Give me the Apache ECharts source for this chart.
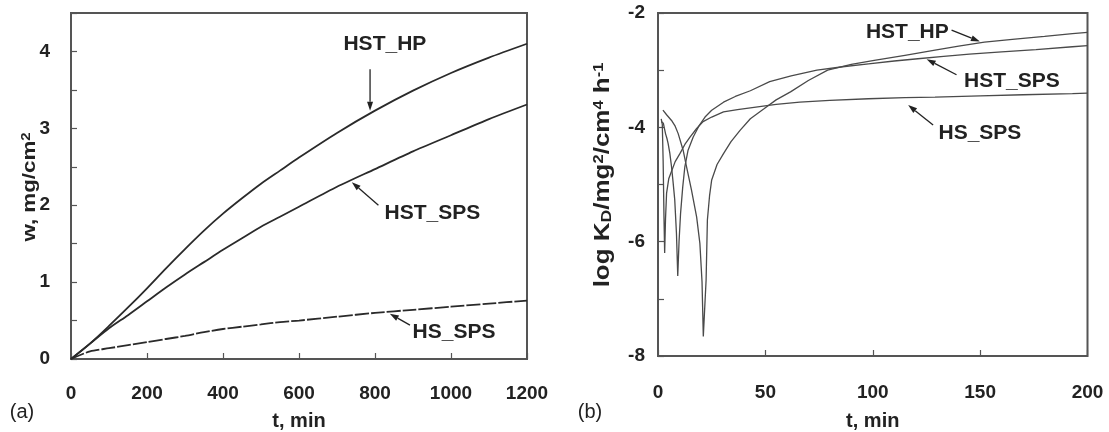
<!DOCTYPE html>
<html><head><meta charset="utf-8">
<script src="https://cdn.jsdelivr.net/npm/echarts@6/dist/echarts.min.js"></script>
<style>html,body{margin:0;padding:0;background:#fff}#c{width:1109px;height:432px}</style>
</head><body><div id="c"></div><script>
// ---- panel (a): mass gain w (mg/cm2) vs t (min)
const aT = [0, 50, 100, 150, 200, 250, 300, 350, 400, 450, 500, 550, 600, 700, 800, 900, 1000, 1100, 1200];
const aHST_HP = [0, 0.2, 0.43, 0.67, 0.92, 1.18, 1.43, 1.67, 1.89, 2.09, 2.28, 2.45, 2.62, 2.94, 3.23, 3.49, 3.72, 3.92, 4.1];
const aHST_SPS = [0, 0.2, 0.4, 0.57, 0.75, 0.93, 1.1, 1.26, 1.42, 1.57, 1.72, 1.85, 1.98, 2.24, 2.47, 2.7, 2.91, 3.12, 3.31];
const aHS_SPS = [0, 0.1, 0.14, 0.18, 0.22, 0.26, 0.3, 0.35, 0.39, 0.42, 0.45, 0.48, 0.5, 0.55, 0.6, 0.64, 0.68, 0.72, 0.76];
const aXTicks = [0, 200, 400, 600, 800, 1000, 1200];
const aYTicks = [0, 1, 2, 3, 4];

// ---- panel (b): log Kp vs t (min)
const bHS_SPS_t = [1.5, 2.0, 2.4, 2.8, 3.1, 3.5, 4.0, 5.0, 6.0, 8.0, 10.2, 12.5, 14.9, 18, 21, 25, 30.5, 37, 43, 55, 66, 80, 98, 115, 129, 150, 170, 193, 200];
const bHS_SPS_v = [-3.85, -3.95, -4.6, -5.6, -6.2, -5.6, -5.15, -4.9, -4.8, -4.6, -4.46, -4.3, -4.17, -4.02, -3.9, -3.82, -3.73, -3.69, -3.66, -3.6, -3.56, -3.53, -3.5, -3.48, -3.47, -3.45, -3.43, -3.41, -3.4];
const bHST_SPS_t = [1.5, 2.5, 3.0, 3.5, 4.2, 4.7, 5.5, 6.3, 7.0, 7.8, 8.6, 9.2, 9.8, 10.5, 11.5, 12.5, 14, 16.4, 19, 21.9, 25, 30.5, 36, 43, 52, 62, 74, 86, 98, 110, 121, 133, 145, 160, 176, 193, 200];
const bHST_SPS_v = [-3.9, -3.93, -3.95, -4.11, -4.2, -4.28, -4.45, -4.69, -4.95, -5.27, -5.86, -6.6, -6.0, -5.51, -5.05, -4.69, -4.4, -4.17, -3.98, -3.82, -3.7, -3.56, -3.46, -3.36, -3.2, -3.1, -3.0, -2.94, -2.89, -2.84, -2.8, -2.76, -2.72, -2.68, -2.64, -2.59, -2.57];
const bHST_HP_t = [2.3, 4, 6.3, 8, 9.4, 11.7, 13.3, 15.6, 18, 19.5, 20.5, 21.1, 21.7, 22.4, 23, 24, 25, 27.5, 30.5, 34, 38.3, 43, 49.2, 55, 61.7, 70, 79, 90, 100.7, 115, 129, 140, 152, 165, 180, 193, 200];
const bHST_HP_v = [-3.7, -3.78, -3.88, -3.98, -4.11, -4.4, -4.69, -5.1, -5.57, -6.03, -6.7, -7.66, -7.2, -6.67, -5.62, -5.2, -4.92, -4.65, -4.46, -4.25, -4.05, -3.85, -3.68, -3.52, -3.38, -3.18, -3.0, -2.9, -2.83, -2.74, -2.65, -2.58, -2.51, -2.46, -2.41, -2.36, -2.34];
const bXTicks = [0, 50, 100, 150, 200];
const bYTicks = [-8, -6, -4, -2];

// annotation labels with arrows (text position, arrow start, arrow end) in data units
const aNotes = [
  {text: 'HST_HP', at: [826, 4.1], from: [787, 3.77], to: [787, 3.23]},
  {text: 'HST_SPS', at: [951, 1.9], from: [809, 2.0], to: [739, 2.3]},
  {text: 'HS_SPS', at: [1008, 0.354], from: [892, 0.44], to: [839, 0.59]}
];
const bNotes = [
  {text: 'HST_HP', at: [116.1, -2.34], from: [136.7, -2.3], to: [149.9, -2.5]},
  {text: 'HST_SPS', at: [164.8, -3.19], from: [139, -3.08], to: [125.1, -2.81]},
  {text: 'HS_SPS', at: [149.9, -4.1], from: [128.1, -3.96], to: [116.5, -3.61]}
];

const FONT = '"Liberation Sans", Arial, sans-serif';
const zip = (xs, ys) => xs.map((x, i) => [x, ys[i]]);

const chart = echarts.init(document.getElementById('c'), null, {renderer: 'canvas'});

const tickLabel = {fontFamily: FONT, fontWeight: 'bold', fontSize: 19, color: '#222'};
const nameStyle = {fontFamily: FONT, fontWeight: 'bold', fontSize: 20, color: '#222'};
const tick = {show: true, inside: true, length: 6, lineStyle: {color: '#555', width: 1.2}};

const option = {
  animation: false,
  backgroundColor: '#fff',
  grid: [
    {left: 71, right: 582, top: 13, bottom: 73, show: true, borderColor: '#555', borderWidth: 2, backgroundColor: 'transparent',
     containLabel: false, outerBoundsMode: 'none'},
    {left: 658, right: 21.5, top: 13, bottom: 76, show: true, borderColor: '#555', borderWidth: 2, backgroundColor: 'transparent',
     containLabel: false, outerBoundsMode: 'none'}
  ],
  xAxis: [
    {type: 'value', gridIndex: 0, min: 0, max: 1200, interval: 200,
     axisLine: {show: false}, axisTick: tick, splitLine: {show: false},
     axisLabel: Object.assign({margin: 25, formatter: v => aXTicks.includes(v) ? String(v) : ''}, tickLabel),
     name: 't, min', nameLocation: 'middle', nameGap: 52, nameTextStyle: nameStyle},
    {type: 'value', gridIndex: 1, min: 0, max: 200, interval: 50,
     axisLine: {show: false}, axisTick: tick, splitLine: {show: false},
     axisLabel: Object.assign({margin: 27, formatter: v => bXTicks.includes(v) ? String(v) : ''}, tickLabel),
     name: 't, min', nameLocation: 'middle', nameGap: 55, nameTextStyle: nameStyle}
  ],
  yAxis: [
    {type: 'value', gridIndex: 0, min: 0, max: 4.5, interval: 0.5,
     axisLine: {show: false}, axisTick: tick, splitLine: {show: false},
     axisLabel: Object.assign({margin: 21, formatter: v => aYTicks.includes(v) ? String(v) : ''}, tickLabel)},
    {type: 'value', gridIndex: 1, min: -8, max: -2, interval: 1,
     axisLine: {show: false}, axisTick: tick, splitLine: {show: false},
     axisLabel: Object.assign({margin: 13, formatter: v => bYTicks.includes(v) ? String(v) : ''}, tickLabel)}
  ],
  series: [
    {name: 'HST_HP', type: 'line', xAxisIndex: 0, yAxisIndex: 0, data: zip(aT, aHST_HP), showSymbol: false, smooth: 0.25,
     lineStyle: {color: '#2a2a2a', width: 1.8}},
    {name: 'HST_SPS', type: 'line', xAxisIndex: 0, yAxisIndex: 0, data: zip(aT, aHST_SPS), showSymbol: false, smooth: 0.25,
     lineStyle: {color: '#2a2a2a', width: 1.8}},
    {name: 'HS_SPS', type: 'line', xAxisIndex: 0, yAxisIndex: 0, data: zip(aT, aHS_SPS), showSymbol: false, smooth: 0.25,
     lineStyle: {color: '#2a2a2a', width: 1.8, type: [14, 2]}},
    {name: 'HST_HP (b)', type: 'line', xAxisIndex: 1, yAxisIndex: 1, data: zip(bHST_HP_t, bHST_HP_v), showSymbol: false,
     lineStyle: {color: '#4a4a4a', width: 1.3}},
    {name: 'HST_SPS (b)', type: 'line', xAxisIndex: 1, yAxisIndex: 1, data: zip(bHST_SPS_t, bHST_SPS_v), showSymbol: false,
     lineStyle: {color: '#4a4a4a', width: 1.3}},
    {name: 'HS_SPS (b)', type: 'line', xAxisIndex: 1, yAxisIndex: 1, data: zip(bHS_SPS_t, bHS_SPS_v), showSymbol: false,
     lineStyle: {color: '#4a4a4a', width: 1.3}}
  ]
};
chart.setOption(option);

function arrow(p1, p2) {
  const dx = p2[0] - p1[0], dy = p2[1] - p1[1];
  const L = Math.sqrt(dx * dx + dy * dy) || 1;
  const ux = dx / L, uy = dy / L;
  const hl = 9, hw = 3;
  const bx = p2[0] - ux * hl, by = p2[1] - uy * hl;
  return [
    {type: 'line', shape: {x1: p1[0], y1: p1[1], x2: bx, y2: by}, style: {stroke: '#222', lineWidth: 1.3}, silent: true},
    {type: 'polygon', shape: {points: [[p2[0], p2[1]], [bx - uy * hw, by + ux * hw], [bx + uy * hw, by - ux * hw]]},
     style: {fill: '#222'}, silent: true}
  ];
}
const graphics = [];
function addNotes(notes, gi) {
  notes.forEach(n => {
    const p = chart.convertToPixel({gridIndex: gi}, n.at);
    graphics.push({type: 'text', x: p[0], y: p[1], silent: true,
      style: {text: n.text, fontFamily: FONT, fontWeight: 'bold', fontSize: 21, fill: '#222', align: 'center', verticalAlign: 'middle'}});
    const a = chart.convertToPixel({gridIndex: gi}, n.from);
    const b = chart.convertToPixel({gridIndex: gi}, n.to);
    arrow(a, b).forEach(g => graphics.push(g));
  });
}
addNotes(aNotes, 0);
addNotes(bNotes, 1);

// rotated y-axis titles with super/subscripts
const mkRich = (main, small, sub) => ({
  b: {fontFamily: FONT, fontWeight: 'bold', fontSize: main, fill: '#222'},
  sup: {fontFamily: FONT, fontWeight: 'bold', fontSize: small, fill: '#222', verticalAlign: 'top'},
  sub: {fontFamily: FONT, fontWeight: 'bold', fontSize: sub, fill: '#222', verticalAlign: 'bottom'}
});
graphics.push({type: 'text', x: 30, y: 187, rotation: Math.PI / 2, scaleX: 1.24, silent: true,
  style: {text: '{b|w, mg/cm}{sup|2}', rich: mkRich(18, 12, 13), align: 'center', verticalAlign: 'middle'}});
graphics.push({type: 'text', x: 603, y: 175, rotation: Math.PI / 2, scaleX: 1.18, silent: true,
  style: {text: '{b|log K}{sub|D}{b|/mg}{sup|2}{b|/cm}{sup|4}{b| h}{sup|-1}', rich: mkRich(22, 14, 15), align: 'center', verticalAlign: 'middle'}});

graphics.push({type: 'text', x: 22, y: 412, silent: true,
  style: {text: '(a)', fontFamily: FONT, fontSize: 20, fill: '#222', align: 'center', verticalAlign: 'middle'}});
graphics.push({type: 'text', x: 590, y: 412, silent: true,
  style: {text: '(b)', fontFamily: FONT, fontSize: 20, fill: '#222', align: 'center', verticalAlign: 'middle'}});
chart.setOption({graphic: graphics});
</script></body></html>
